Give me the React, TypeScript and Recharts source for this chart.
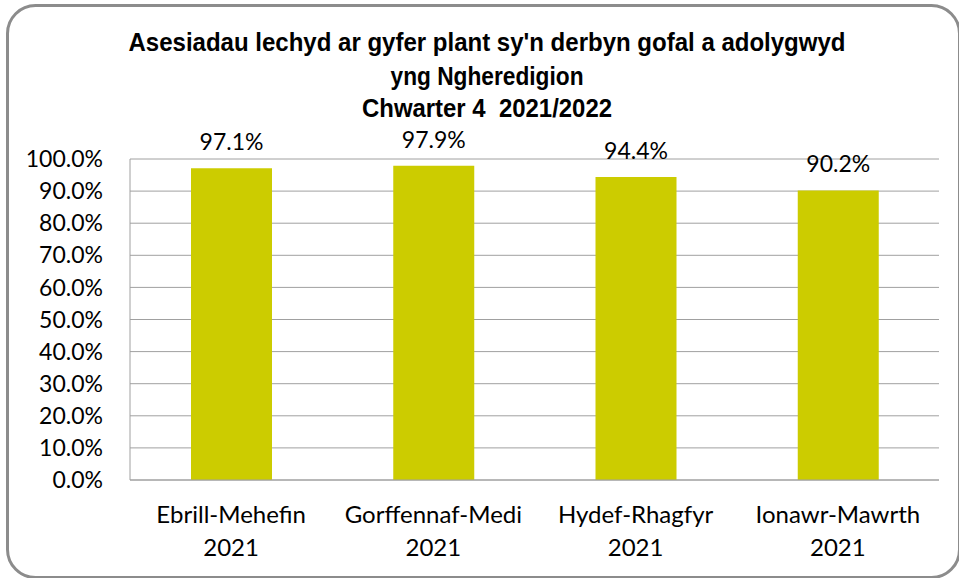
import React from 'react';
import { BarChart, Bar, XAxis, YAxis, CartesianGrid, LabelList } from 'recharts';

const periods = ['Ebrill-Mehefin', 'Gorffennaf-Medi', 'Hydef-Rhagfyr', 'Ionawr-Mawrth'];
const years = ['2021', '2021', '2021', '2021'];
const values = [97.1, 97.9, 94.4, 90.2];
const yTicks = [0, 10, 20, 30, 40, 50, 60, 70, 80, 90, 100];
const titleLines = [
  'Asesiadau lechyd ar gyfer plant sy\'n derbyn gofal a adolygwyd',
  'yng Ngheredigion',
  'Chwarter 4  2021/2022',
];

const data = periods.map((p, i) => ({ name: p, year: years[i], value: values[i] }));

const FONT = 'Lato, "Noto Sans", sans-serif';

const CategoryTick = (props: any) => {
  const { x, y, payload, index } = props;
  const yr = years[index ?? 0] ?? '';
  return (
    <g transform={`translate(${x},${y})`}>
      <text textAnchor="middle" fill="#000" fontSize={24} fontFamily={FONT}>
        <tspan x={0} dy={35}>{payload.value}</tspan>
        <tspan x={0} dy={33}>{yr}</tspan>
      </text>
    </g>
  );
};

export default function App() {
  const titleWidths = [717, 193, 250];
  const titleBaselines = [51, 85, 117];
  return (
    <div style={{ position: 'absolute', left: 0, top: 0, width: 959, height: 578, background: '#fff' }}>
      <BarChart
        width={959}
        height={578}
        data={data}
        margin={{ top: 159, right: 20, bottom: 0, left: 0 }}
      >
        <CartesianGrid vertical={false} stroke="#a0a0a0" strokeWidth={1} />
        <XAxis
          dataKey="name"
          height={98}
          axisLine={{ stroke: '#a0a0a0' }}
          tickLine={false}
          interval={0}
          tick={<CategoryTick />}
        />
        <YAxis
          width={130}
          domain={[0, 100]}
          ticks={yTicks}
          interval={0}
          axisLine={{ stroke: '#a0a0a0' }}
          tickLine={false}
          tickSize={25}
          tickMargin={2}
          tickFormatter={(v: number) => `${v.toFixed(1)}%`}
          tick={{ fill: '#000', fontSize: 23, fontFamily: FONT }}
        />
        <Bar dataKey="value" fill="#CCCC00" barSize={81} isAnimationActive={false}>
          <LabelList
            dataKey="value"
            position="top"
            offset={18}
            formatter={(v: any) => `${Number(v).toFixed(1)}%`}
            style={{ fill: '#000', fontSize: 23, fontFamily: FONT }}
          />
        </Bar>
      </BarChart>
      <svg
        width={959}
        height={578}
        style={{ position: 'absolute', left: 0, top: 0, pointerEvents: 'none' }}
      >
        <rect x={7.5} y={5.5} width={952} height={572} rx={28} ry={28} fill="none" stroke="#8c8c8c" strokeWidth={3} />
        {titleLines.map((t, i) => (
          <text
            key={i}
            x={487}
            y={titleBaselines[i]}
            textAnchor="middle"
            fontFamily='"Liberation Sans Narrow", "Liberation Sans", Arial, sans-serif'
            fontWeight="bold"
            fontSize={26}
            fill="#000"
            textLength={titleWidths[i]}
            lengthAdjust="spacingAndGlyphs"
            style={{ whiteSpace: 'pre' }}
          >
            {t}
          </text>
        ))}
      </svg>
    </div>
  );
}
